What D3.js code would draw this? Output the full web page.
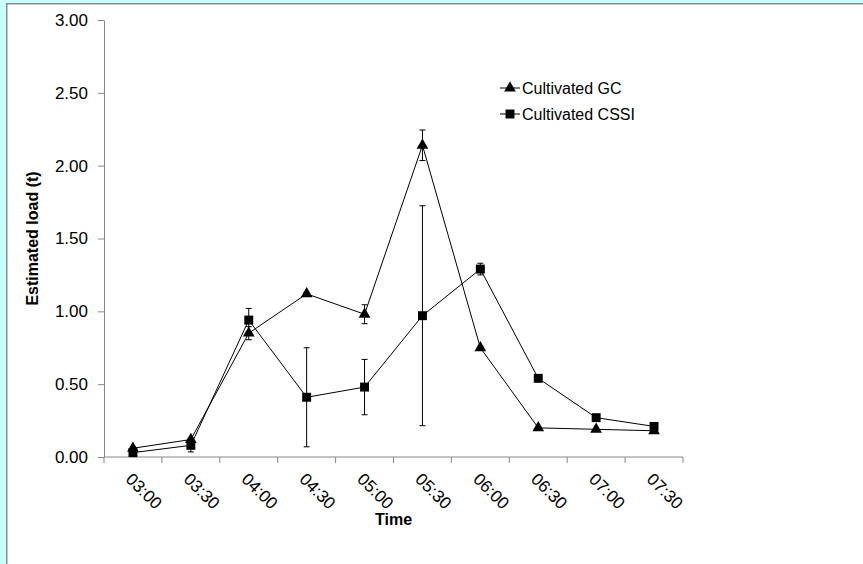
<!DOCTYPE html>
<html>
<head>
<meta charset="utf-8">
<script src="https://cdn.jsdelivr.net/npm/d3@7"></script>
<style>
  html, body { margin: 0; padding: 0; background: #fff; overflow: hidden; }
  svg { display: block; font-family: Arial, "Liberation Sans", sans-serif; }
</style>
</head>
<body>
<svg id="chart" width="863" height="564"></svg>
<script>
const times = ['03:00', '03:30', '04:00', '04:30', '05:00', '05:30', '06:00', '06:30', '07:00', '07:30'];
const gcValues = [0.06, 0.12, 0.85, 1.12, 0.98, 2.14, 0.75, 0.20, 0.19, 0.18];
const gcErrors = [0.01, 0.01, 0.045, 0.01, 0.065, 0.105, 0.01, 0, 0, 0];
const cssiValues = [0.03, 0.08, 0.94, 0.41, 0.48, 0.97, 1.29, 0.54, 0.27, 0.21];
const cssiErrors = [0, 0.045, 0.08, 0.34, 0.19, 0.755, 0.04, 0, 0, 0];
const yTicks = [0, 0.5, 1, 1.5, 2, 2.5, 3];

const series = [
    { name: 'Cultivated GC', values: gcValues, errors: gcErrors, symbol: d3.symbolTriangle, size: 60 },
    { name: 'Cultivated CSSI', values: cssiValues, errors: cssiErrors, symbol: d3.symbolSquare, size: 80 }
];

const svg = d3.select('#chart');
const margin = { left: 104, right: 180, top: 20, bottom: 107 };
const width = 863, height = 564;

// cyan strips on the top and left, grey frame edge
svg.append('rect')
    .attr('width', width).attr('height', 3)
    .attr('fill', '#ccfefe');
svg.append('rect')
    .attr('width', 6).attr('height', height)
    .attr('fill', '#ccfefe');
svg.append('path')
    .attr('d', `M6.75,${height}V3.75H${width}`)
    .attr('fill', 'none')
    .attr('stroke', '#8c8c8c')
    .attr('stroke-width', 1.5);

const x = d3.scaleBand()
    .domain(times)
    .range([margin.left, width - margin.right]);
const y = d3.scaleLinear()
    .domain([0, 3])
    .range([height - margin.bottom, margin.top]);

// y axis
const yAxis = svg.append('g')
    .attr('transform', `translate(${margin.left}, 0)`)
    .call(d3.axisLeft(y).tickValues(yTicks).tickFormat(d3.format('.2f')).tickSizeOuter(0).tickPadding(10));
yAxis.select('.domain').attr('stroke', '#888');
yAxis.selectAll('.tick line').attr('stroke', '#888');
yAxis.selectAll('.tick text').attr('font-size', 17).attr('fill', '#000');

// x axis, ticks on band boundaries
const xAxis = svg.append('g')
    .attr('transform', `translate(0, ${y(0)})`);
xAxis.append('line')
    .attr('x1', margin.left).attr('x2', width - margin.right)
    .attr('stroke', '#888');
xAxis.selectAll('.xt')
    .data(times.concat(['end']))
    .join('line')
    .attr('class', 'xt')
    .attr('x1', (d, i) => margin.left + i * x.step())
    .attr('x2', (d, i) => margin.left + i * x.step())
    .attr('y1', 0).attr('y2', 6)
    .attr('stroke', '#888');
xAxis.selectAll('.xl')
    .data(times)
    .join('text')
    .attr('class', 'xl')
    .attr('transform', d => `translate(${x(d) + x.bandwidth() / 2 - 4}, 19) rotate(45)`)
    .attr('font-size', 17)
    .attr('dy', '0.35em')
    .text(d => d);

// axis titles
svg.append('text')
    .attr('transform', `translate(38, ${(y(0) + y(3)) / 2}) rotate(-90)`)
    .attr('text-anchor', 'middle')
    .attr('font-size', 16)
    .attr('font-weight', 'bold')
    .text('Estimated load (t)');
svg.append('text')
    .attr('x', (margin.left + width - margin.right) / 2)
    .attr('y', 525)
    .attr('text-anchor', 'middle')
    .attr('font-size', 16)
    .attr('font-weight', 'bold')
    .text('Time');

const cx = (d, i) => x(times[i]) + x.bandwidth() / 2;
const line = d3.line()
    .x(cx)
    .y(d => y(d));

series.forEach(s => {
    const g = svg.append('g');

    // error bars
    const err = g.selectAll('.err')
        .data(s.values.map((v, i) => ({ v, e: s.errors[i], i })).filter(d => d.e > 0))
        .join('g')
        .attr('stroke', '#000')
        .attr('stroke-width', 1);
    err.append('line')
        .attr('x1', d => cx(null, d.i)).attr('x2', d => cx(null, d.i))
        .attr('y1', d => y(d.v + d.e)).attr('y2', d => y(d.v - d.e));
    err.append('line')
        .attr('x1', d => cx(null, d.i) - 3).attr('x2', d => cx(null, d.i) + 3)
        .attr('y1', d => y(d.v + d.e)).attr('y2', d => y(d.v + d.e));
    err.append('line')
        .attr('x1', d => cx(null, d.i) - 3).attr('x2', d => cx(null, d.i) + 3)
        .attr('y1', d => y(d.v - d.e)).attr('y2', d => y(d.v - d.e));

    g.append('path')
        .datum(s.values)
        .attr('fill', 'none')
        .attr('stroke', '#000')
        .attr('stroke-width', 1)
        .attr('d', line);

    g.selectAll('.pt')
        .data(s.values)
        .join('path')
        .attr('class', 'pt')
        .attr('transform', (d, i) => `translate(${cx(d, i)}, ${y(d)})`)
        .attr('d', d3.symbol(s.symbol, s.size))
        .attr('fill', '#000');
});

// legend
const legend = svg.append('g')
    .selectAll('g')
    .data(series)
    .join('g')
    .attr('transform', (d, i) => `translate(500, ${88 + i * 26})`);
legend.append('line')
    .attr('x1', 0).attr('x2', 20)
    .attr('stroke', '#000');
legend.append('path')
    .attr('transform', 'translate(10, 0)')
    .attr('d', d => d3.symbol(d.symbol, d.size)())
    .attr('fill', '#000');
legend.append('text')
    .attr('x', 22)
    .attr('dy', '0.35em')
    .attr('font-size', 16)
    .text(d => d.name);
</script>
</body>
</html>
